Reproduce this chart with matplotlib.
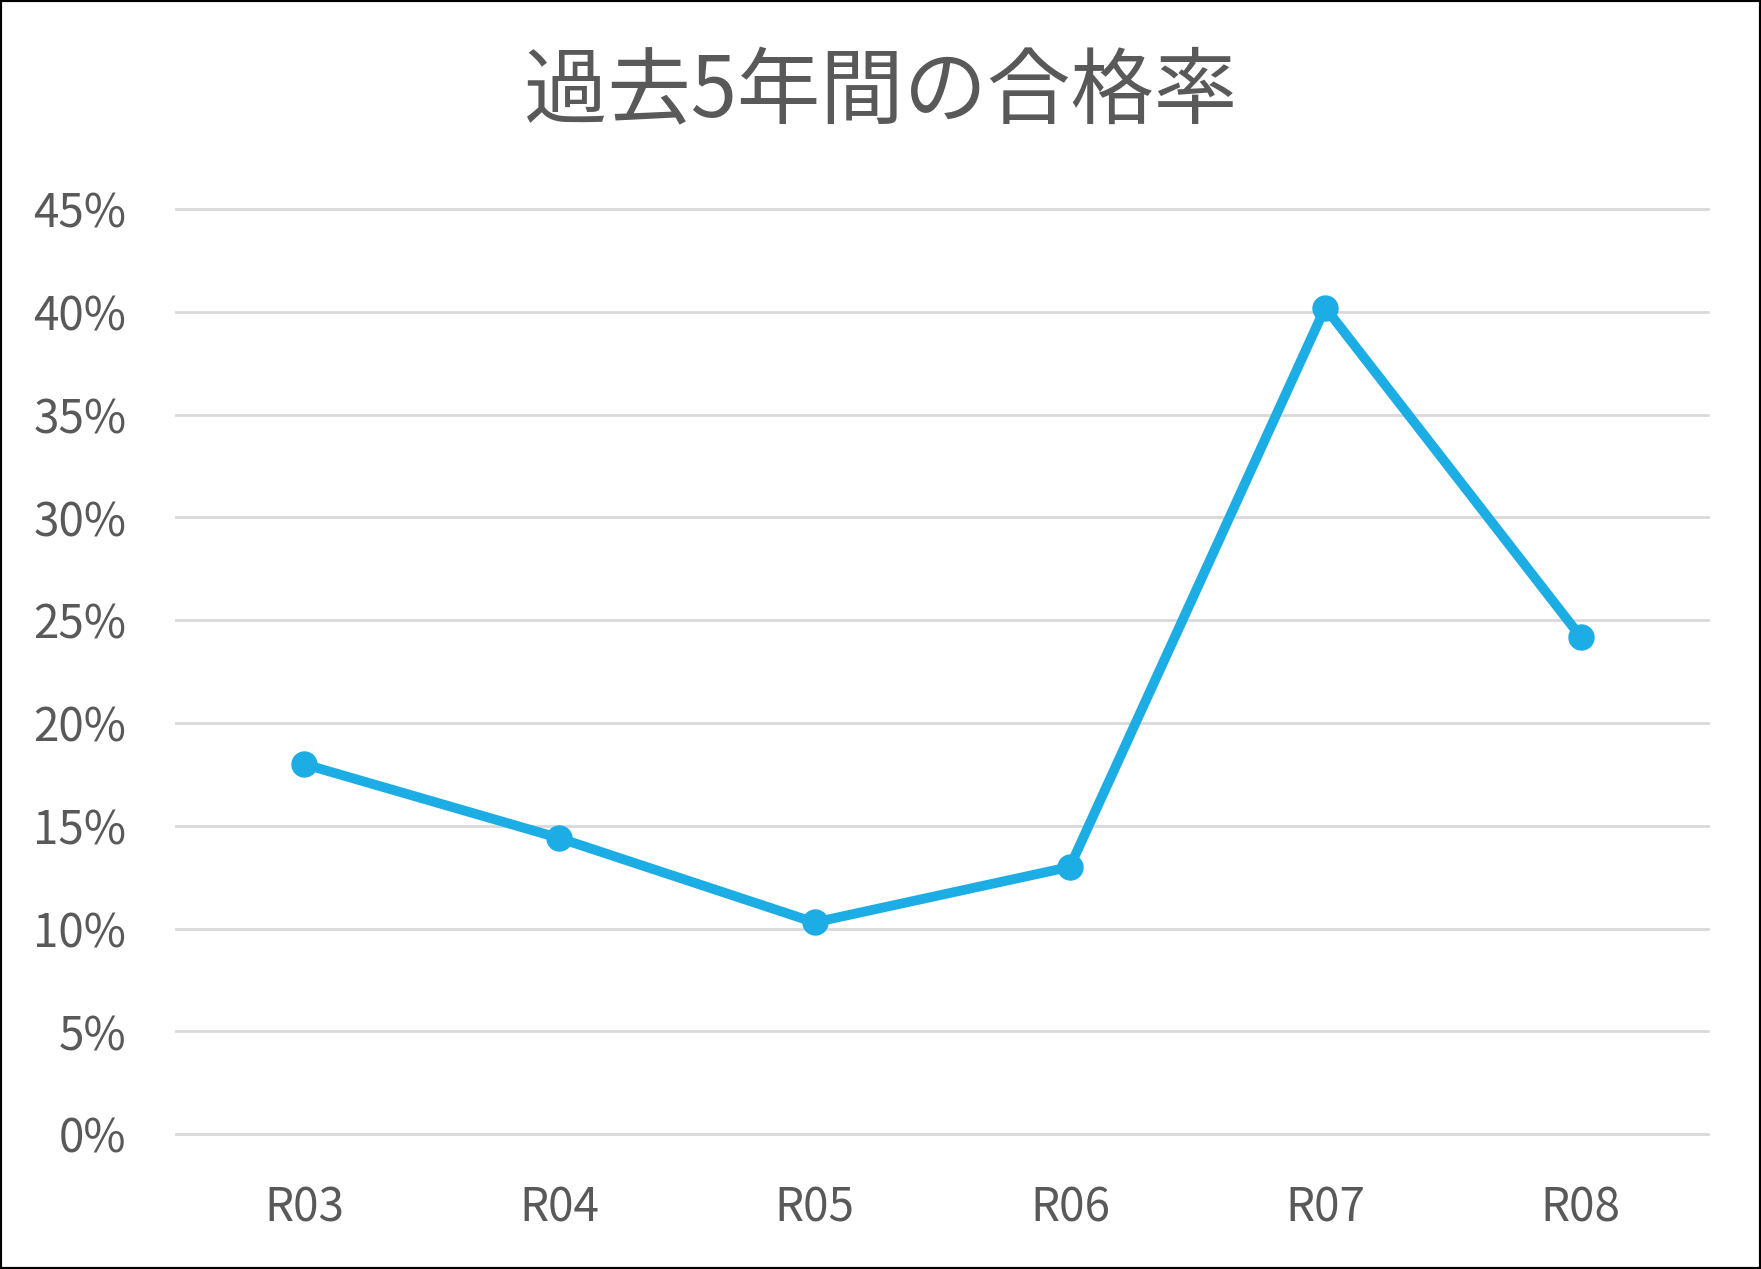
import matplotlib
matplotlib.use("Agg")
import matplotlib.pyplot as plt
from matplotlib.patches import Rectangle
from matplotlib.ticker import FuncFormatter, MultipleLocator

plt.rcParams['font.family'] = ['Noto Sans CJK JP', 'DejaVu Sans']

years = ["R03", "R04", "R05", "R06", "R07", "R08"]
rates = [18.0, 14.4, 10.3, 13.0, 40.2, 24.2]
title = "過去5年間の合格率"

fig = plt.figure(figsize=(17.61, 12.69), dpi=100)
ax = fig.add_axes([0.1001, 0.1062, 0.8699, 0.7292])

x = list(range(len(years)))
ax.plot(x, rates, color='#1cade4', lw=7, marker='o', ms=18, zorder=3,
        solid_capstyle='round', solid_joinstyle='round')

ax.set_xlim(-0.5, len(years) - 0.5)
ax.set_ylim(0, 45)
ax.yaxis.set_major_locator(MultipleLocator(5))
ax.yaxis.set_major_formatter(FuncFormatter(lambda v, p: '%d%%' % v))
ax.set_xticks(x)
ax.set_xticklabels(years)

ax.grid(axis='y', color='#d9d9d9', lw=2)
ax.set_axisbelow(True)
for gl in ax.get_ygridlines():
    gl.set_clip_on(False)
for s in ax.spines.values():
    s.set_visible(False)
ax.tick_params(length=0, labelsize=33, labelcolor='#595959')
ax.tick_params(axis='y', pad=36)
ax.tick_params(axis='x', pad=36)

fig.text(0.50, 0.927, title, ha='center', va='center', fontsize=60, color='#595959')

fig.patches.append(Rectangle((0, 0), 1, 1, transform=fig.transFigure, fill=False,
                             edgecolor='black', lw=3))

fig.savefig("out.png", dpi=100)
